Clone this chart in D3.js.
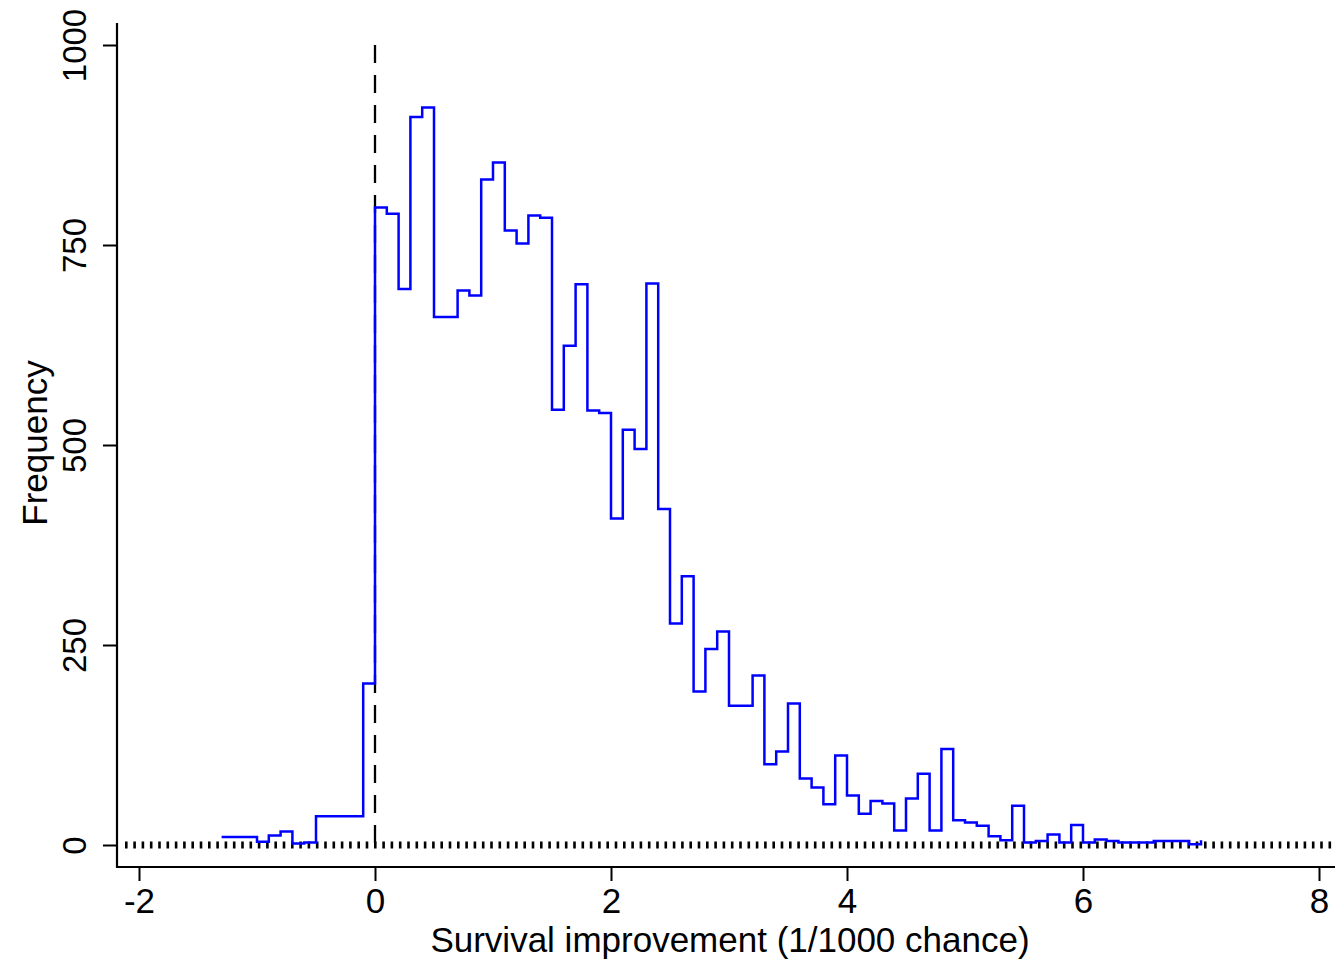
<!DOCTYPE html>
<html>
<head>
<meta charset="utf-8">
<script src="https://cdn.jsdelivr.net/npm/d3@7"></script>
<style>
  body { margin: 0; background: #fff; }
  text { font-family: "Liberation Sans", Arial, sans-serif; fill: #000; }
</style>
</head>
<body>
<div id="chart"></div>
<script>
// Step points: start of each bin (1/1000 chance) and its frequency
const binStarts = [-1.3, -1.0, -0.9, -0.8, -0.7, -0.6, -0.5, -0.1,
    0.0, 0.1, 0.2, 0.3, 0.4, 0.5, 0.7, 0.8, 0.9,
    1.0, 1.1, 1.2, 1.3, 1.4, 1.5, 1.6, 1.7, 1.8, 1.9,
    2.0, 2.1, 2.2, 2.3, 2.4, 2.5, 2.6, 2.7, 2.8, 2.9,
    3.0, 3.2, 3.3, 3.4, 3.5, 3.6, 3.7, 3.8, 3.9,
    4.0, 4.1, 4.2, 4.3, 4.4, 4.5, 4.6, 4.7, 4.8, 4.9,
    5.0, 5.1, 5.2, 5.3, 5.4, 5.5, 5.6, 5.7, 5.8, 5.9,
    6.0, 6.1, 6.2, 6.3, 6.6, 6.9, 7.0];
const frequencies = [10, 4, 12, 17, 2, 3, 36, 202,
    797, 789, 695, 910, 922, 660, 693, 687, 832,
    853, 768, 752, 787, 784, 544, 624, 701, 543, 540,
    408, 519, 495, 702, 420, 277, 336, 192, 245, 267,
    174, 212, 101, 117, 177, 83, 72, 51, 112,
    62, 39, 55, 52, 18, 58, 89, 18, 120, 31,
    28, 24, 11, 6, 49, 3, 5, 13, 3, 25,
    3, 7, 5, 3, 5, 1, 6];

const xTicks = [-2, 0, 2, 4, 6, 8];
const xTickLabels = ["-2", "0", "2", "4", "6", "8"];
const yTicks = [0, 250, 500, 750, 1000];
const xTitle = "Survival improvement (1/1000 chance)";
const yTitle = "Frequency";

const width = 1335, height = 964;
const axisX = 117, axisY = 867;

const svg = d3.select("#chart").append("svg")
    .attr("width", width)
    .attr("height", height);

const x = d3.scaleLinear().domain([-2, 8]).range([139, 1319]);
const y = d3.scaleLinear().domain([0, 1000]).range([845, 45]);

// reference lines
svg.append("line")
    .attr("x1", 125).attr("x2", width)
    .attr("y1", y(0)).attr("y2", y(0))
    .attr("stroke", "#000")
    .attr("stroke-width", 7)
    .attr("stroke-dasharray", "2.6 5.7");

svg.append("line")
    .attr("x1", x(0)).attr("x2", x(0))
    .attr("y1", y(1000)).attr("y2", y(0))
    .attr("stroke", "#000")
    .attr("stroke-width", 2.3)
    .attr("stroke-dasharray", "18 12");

// stairstep line
const points = binStarts.map((b, i) => [b, frequencies[i]]);
const line = d3.line()
    .x(d => x(d[0]))
    .y(d => y(d[1]))
    .curve(d3.curveStepAfter);

svg.append("path")
    .datum(points)
    .attr("d", line)
    .attr("fill", "none")
    .attr("stroke", "#0000ff")
    .attr("stroke-width", 2.5);

// axes
const xAxis = svg.append("g")
    .attr("transform", `translate(0,${axisY})`)
    .call(d3.axisBottom(x)
        .tickValues(xTicks)
        .tickFormat((d, i) => xTickLabels[i])
        .tickSize(14)
        .tickPadding(8));
xAxis.select(".domain").remove();
xAxis.selectAll("line").attr("stroke", "#000").attr("stroke-width", 2);
xAxis.selectAll("text")
    .attr("font-size", 35)
    .attr("y", 46)
    .attr("dy", 0);

const yAxis = svg.append("g")
    .attr("transform", `translate(${axisX},0)`)
    .call(d3.axisLeft(y)
        .tickValues(yTicks)
        .tickFormat(d3.format("d"))
        .tickSize(14));
yAxis.select(".domain").remove();
yAxis.selectAll("line").attr("stroke", "#000").attr("stroke-width", 2);
yAxis.selectAll("text")
    .attr("font-size", 33)
    .attr("transform", "rotate(-90)")
    .attr("text-anchor", "middle")
    .attr("x", 0)
    .attr("y", -31)
    .attr("dy", 0);

// axis lines
svg.append("line")
    .attr("x1", axisX).attr("x2", axisX)
    .attr("y1", 23).attr("y2", axisY + 1)
    .attr("stroke", "#000").attr("stroke-width", 2.2);
svg.append("line")
    .attr("x1", axisX - 1).attr("x2", width)
    .attr("y1", axisY).attr("y2", axisY)
    .attr("stroke", "#000").attr("stroke-width", 2.2);

// titles
svg.append("text")
    .attr("x", 730)
    .attr("y", 952)
    .attr("text-anchor", "middle")
    .attr("font-size", 35)
    .text(xTitle);

svg.append("text")
    .attr("transform", "translate(47,443) rotate(-90)")
    .attr("text-anchor", "middle")
    .attr("font-size", 35)
    .text(yTitle);
</script>
</body>
</html>
